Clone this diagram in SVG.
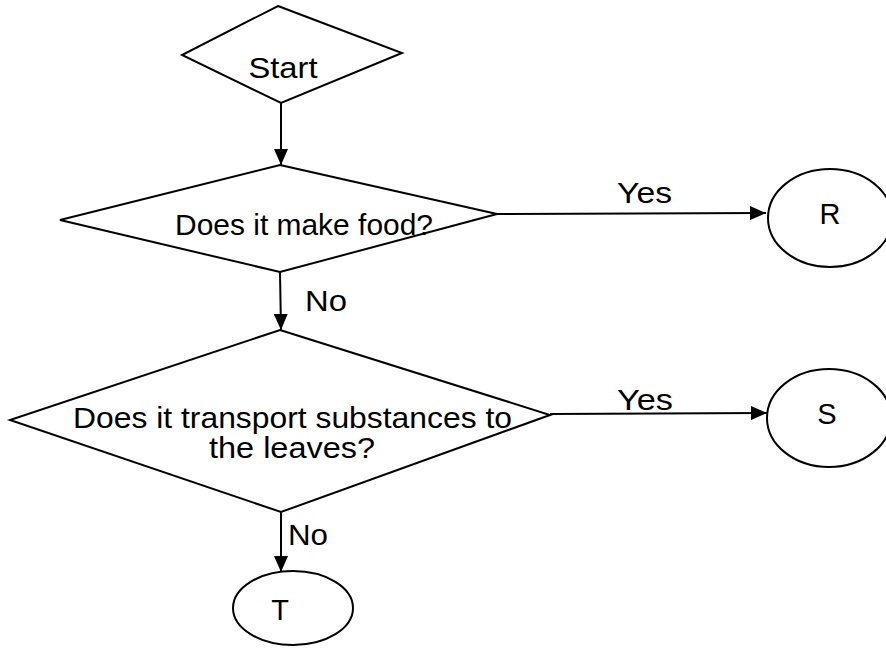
<svg xmlns="http://www.w3.org/2000/svg" width="886" height="655" viewBox="0 0 886 655">
<style>
.shape{fill:#fff;stroke:#000;stroke-width:2;stroke-linejoin:miter}
.edge{fill:none;stroke:#000;stroke-width:2}
text{font-family:"Liberation Sans",Arial,sans-serif;font-size:29px;fill:#000}
.c{text-anchor:middle}
</style>
<defs>
<marker id="arr" viewBox="0 0 16 14" markerWidth="16" markerHeight="14" refX="16" refY="7" orient="auto" markerUnits="userSpaceOnUse">
<path d="M0,0 L16,7 L0,14 Z" fill="#000"/>
</marker>
</defs>
<rect width="886" height="655" fill="#fff"/>
<g id="connectors">
<line class="edge" x1="281" y1="103" x2="281" y2="165" marker-end="url(#arr)"/>
<line class="edge" x1="497" y1="214" x2="766" y2="213" marker-end="url(#arr)"/>
<line class="edge" x1="280" y1="272" x2="281" y2="330" marker-end="url(#arr)"/>
<line class="edge" x1="550" y1="414" x2="767" y2="413" marker-end="url(#arr)"/>
<line class="edge" x1="281" y1="512" x2="281" y2="572" marker-end="url(#arr)"/>
<text x="617" y="203" textLength="55" lengthAdjust="spacingAndGlyphs">Yes</text>
<text x="305" y="311" textLength="42" lengthAdjust="spacingAndGlyphs">No</text>
<text x="617" y="410" textLength="56" lengthAdjust="spacingAndGlyphs">Yes</text>
<text x="288" y="545" textLength="40" lengthAdjust="spacingAndGlyphs">No</text>
</g>
<g id="start">
<polygon class="shape" points="278,6 402,53 281,103 182,55"/>
<text class="c" x="283" y="78" textLength="69" lengthAdjust="spacingAndGlyphs">Start</text>
</g>
<g id="q1">
<polygon class="shape" points="280,165 497,214 280,272 60,220"/>
<text x="175" y="235" textLength="258" lengthAdjust="spacingAndGlyphs">Does it make food?</text>
</g>
<g id="q2">
<polygon class="shape" points="280,330 550,415 281,512 10,420"/>
<text x="73" y="428" textLength="439" lengthAdjust="spacingAndGlyphs">Does it transport substances to</text>
<text class="c" x="292" y="458" textLength="166" lengthAdjust="spacingAndGlyphs">the leaves?</text>
</g>
<g id="R">
<ellipse class="shape" cx="830" cy="218" rx="62" ry="49"/>
<text class="c" x="830" y="224">R</text>
</g>
<g id="S">
<ellipse class="shape" cx="829" cy="418" rx="62" ry="49"/>
<text class="c" x="827" y="424">S</text>
</g>
<g id="T">
<ellipse class="shape" cx="293" cy="608" rx="60" ry="37"/>
<text class="c" x="280" y="620">T</text>
</g>
</svg>
